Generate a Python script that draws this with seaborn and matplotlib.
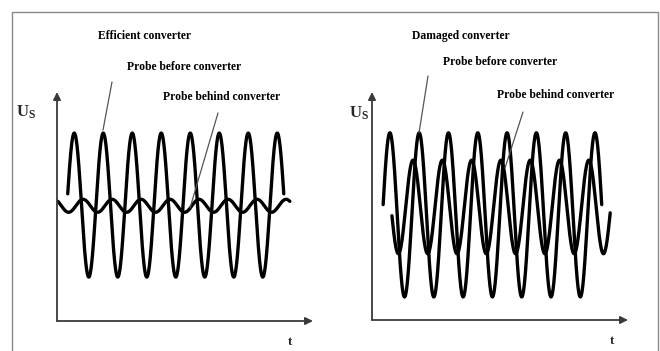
import numpy as np
import pandas as pd
import matplotlib
matplotlib.use("Agg")
import matplotlib.pyplot as plt
from matplotlib.lines import Line2D
from matplotlib.patches import Rectangle
import seaborn as sns

# wave parameters (t in periods, U in units of ~72 px)
waves = ["Probe before converter", "Probe behind converter"]
eff_center = [1.61, 1.60]
eff_amp = [1.00, 0.09]
eff_phase = [0.345, 0.65]
eff_start = [0.37, 0.03]
eff_end = [7.82, 8.03]

dam_center = [1.46, 1.57]
dam_amp = [1.14, 0.65]
dam_phase = [0.36, 0.15]
dam_start = [0.38, 0.68]
dam_end = [7.84, 8.13]

titles = ["Efficient converter", "Damaged converter"]

W, H = 660, 351


def make_frame(center, amp, phase, start, end):
    rows = []
    for name, c, a, p, s, e in zip(waves, center, amp, phase, start, end):
        t = np.linspace(s, e, 1200)
        u = c + a * np.sin(2 * np.pi * (t - p))
        rows.append(pd.DataFrame({"t": t, "U": u, "wave": name}))
    return pd.concat(rows, ignore_index=True)


def fx(px):
    return px / W


def fy(py):
    return 1 - py / H


sns.set_theme(style="white")
plt.rcParams["font.family"] = ["Liberation Serif", "DejaVu Serif"]
plt.rcParams["mathtext.fontset"] = "custom"
plt.rcParams["mathtext.bf"] = "Liberation Serif:bold"
plt.rcParams["mathtext.rm"] = "Liberation Serif"

fig = plt.figure(figsize=(6.6, 3.51), dpi=100)
fig.patch.set_facecolor("white")

# outer frame (bottom edge runs off the picture)
fig.patches.append(Rectangle((fx(12), fy(380)), fx(646), (380 - 12) / H,
                             transform=fig.transFigure, fill=False,
                             edgecolor="#8a8a8a", lw=1.0))

panels = [
    (make_frame(eff_center, eff_amp, eff_phase, eff_start, eff_end),
     [57, 321, 313, 92], 29.0),
    (make_frame(dam_center, dam_amp, dam_phase, dam_start, dam_end),
     [372, 320, 628, 92], 29.3),
]

for df, (x0, yb, x1, yt), period in panels:
    ax = fig.add_axes([fx(x0), fy(yb), fx(x1 - x0), (yb - yt) / H])
    sns.lineplot(data=df, x="t", y="U", hue="wave", palette=["black", "black"],
                 estimator=None, sort=False, legend=False, lw=2.4, ax=ax)
    ax.set_xlim(0, (x1 - x0) / period)
    ax.set_ylim(0, (yb - yt) / 72)
    ax.axis("off")
    arrow = dict(arrowstyle="-|>", lw=1.3, color="#3a3a3a", mutation_scale=11,
                 shrinkA=0, shrinkB=0)
    ax.annotate("", xy=(0, 1), xytext=(0, 0), xycoords="axes fraction",
                arrowprops=arrow)
    ax.annotate("", xy=(1, 0), xytext=(0, 0), xycoords="axes fraction",
                arrowprops=arrow)

# labels
bold = dict(fontweight="bold", fontsize=8.4, color="black", va="center", ha="left")
fig.text(fx(98), fy(36), titles[0], **bold)
fig.text(fx(127), fy(67), waves[0], **bold)
fig.text(fx(163), fy(97), waves[1], **bold)
fig.text(fx(412), fy(36), titles[1], **bold)
fig.text(fx(443), fy(62), waves[0], **bold)
fig.text(fx(497), fy(95), waves[1], **bold)

for x, y in [(16, 112), (349, 113)]:
    fig.text(fx(x), fy(y), r"$\mathbf{U_S}$", fontsize=12, va="center", ha="left")
for x, y in [(290, 342), (612, 341)]:
    fig.text(fx(x), fy(y), "t", fontweight="bold", fontsize=9, va="center",
             ha="center")

# pointer lines
for (xa, ya), (xb, yb) in [((112, 82), (103, 130)), ((218, 113), (190, 208)),
                           ((428, 76), (419, 133)), ((523, 112), (505, 168))]:
    fig.add_artist(Line2D([fx(xa), fx(xb)], [fy(ya), fy(yb)],
                          transform=fig.transFigure, color="#555555", lw=0.9))

fig.savefig("out.png", dpi=100)
